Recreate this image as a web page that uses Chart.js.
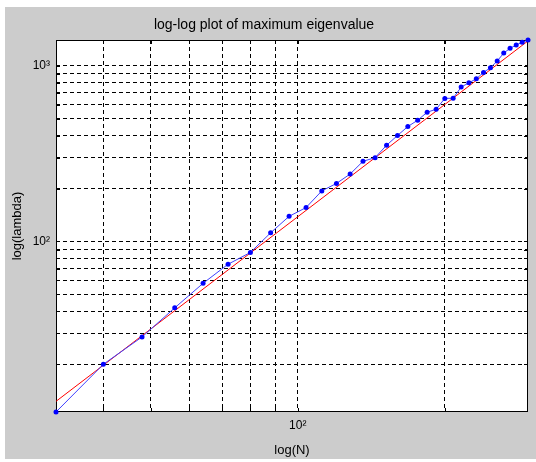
<!DOCTYPE html>
<html>
<head>
<meta charset="utf-8">
<script src="https://cdn.jsdelivr.net/npm/chart.js@4/dist/chart.umd.min.js"></script>
<style>
  html, body { margin: 0; padding: 0; background: #ffffff; }
  #wrap { width: 536px; height: 462px; }
</style>
</head>
<body>
<div id="wrap"><canvas id="c" width="536" height="462"></canvas></div>
<script>
// Matrix size N and its largest eigenvalue
const sizeN = [32, 40, 48, 56, 64, 72, 80, 88, 96, 104, 112, 120, 128, 136, 144,
               152, 160, 168, 176, 184, 192, 200, 208, 216, 224, 232, 240, 248, 256,
               264, 272, 280, 288, 296];
const maxEigenvalue = [10.7, 20, 28.6, 41.9, 57.8, 74.2, 86.6, 112, 139, 156, 194, 214, 242, 286, 300,
                       353, 401, 451, 490, 544, 566, 652, 654, 756, 800, 843, 917, 974, 1064,
                       1181, 1257, 1313, 1360, 1402];

// Straight-line fit in log-log space (end points)
const fitN = [32, 296];
const fitLambda = [12.3, 1385];

// Grid positions and the labelled decades
const xGridTicks = [40, 50, 60, 70, 80, 90, 100, 200];
const yGridTicks = [20, 30, 40, 50, 60, 70, 80, 90, 100, 200, 300, 400, 500, 600, 700, 800, 900, 1000];
const xTickLabels = { 100: '10²' };
const yTickLabels = { 100: '10²', 1000: '10³' };

const FONT = "'Liberation Sans', Arial, Helvetica, sans-serif";

const figureBackground = {
  id: 'figureBackground',
  beforeDraw(chart) {
    const { ctx, chartArea: a } = chart;
    ctx.save();
    ctx.fillStyle = '#ffffff';
    ctx.fillRect(0, 0, chart.width, chart.height);
    ctx.fillStyle = '#cccccc';
    ctx.fillRect(5, 7, chart.width - 5, 452);
    ctx.fillStyle = '#ffffff';
    ctx.fillRect(a.left, a.top, a.right - a.left, a.bottom - a.top);
    ctx.restore();
  }
};

const axesBox = {
  id: 'axesBox',
  beforeDatasetsDraw(chart) {
    const { ctx, chartArea: a, scales } = chart;
    ctx.save();
    ctx.strokeStyle = '#000000';
    ctx.lineWidth = 1;
    ctx.beginPath();
    const tl = 4;
    xGridTicks.forEach(v => {
      const px = Math.round(scales.x.getPixelForValue(v)) + 0.5;
      ctx.moveTo(px, a.bottom); ctx.lineTo(px, a.bottom - tl);
      ctx.moveTo(px, a.top); ctx.lineTo(px, a.top + tl);
    });
    yGridTicks.forEach(v => {
      const py = Math.round(scales.y.getPixelForValue(v)) + 0.5;
      ctx.moveTo(a.left, py); ctx.lineTo(a.left + tl, py);
      ctx.moveTo(a.right, py); ctx.lineTo(a.right - tl, py);
    });
    ctx.stroke();
    ctx.strokeRect(Math.round(a.left) + 0.5, Math.round(a.top) + 0.5,
                   Math.round(a.right - a.left) - 1, Math.round(a.bottom - a.top) - 1);
    ctx.restore();
  }
};

new Chart(document.getElementById('c'), {
  type: 'line',
  data: {
    datasets: [
      {
        label: 'lambda',
        data: sizeN.map((n, i) => ({ x: n, y: maxEigenvalue[i] })),
        borderColor: '#4040ff',
        borderWidth: 1,
        backgroundColor: '#0000ff',
        pointRadius: 2.5,
        pointBorderWidth: 0,
        pointBackgroundColor: '#0000ff',
        tension: 0,
        clip: false
      },
      {
        label: 'fit',
        data: fitN.map((n, i) => ({ x: n, y: fitLambda[i] })),
        borderColor: '#ff0000',
        borderWidth: 1,
        pointRadius: 0,
        tension: 0,
        clip: false
      }
    ]
  },
  options: {
    responsive: false,
    animation: false,
    devicePixelRatio: 1,
    layout: { padding: { left: 0, right: 8, top: 0, bottom: 0 } },
    plugins: {
      legend: { display: false },
      tooltip: { enabled: false },
      title: {
        display: true,
        text: 'log-log plot of maximum eigenvalue',
        color: '#000000',
        font: { family: FONT, size: 14, weight: 'normal' },
        padding: { top: 17.2, bottom: 6 }
      }
    },
    scales: {
      x: {
        type: 'logarithmic',
        min: sizeN[0],
        max: sizeN[sizeN.length - 1],
        afterBuildTicks: s => { s.ticks = xGridTicks.map(v => ({ value: v })); },
        afterFit: s => { s.height = 50; },
        ticks: {
          autoSkip: false, maxRotation: 0, minRotation: 0,
          padding: 6.8,
          color: '#000000',
          font: { family: FONT, size: 12 },
          callback: v => xTickLabels[v] || ''
        },
        grid: { color: '#000000', lineWidth: 1, drawTicks: false },
        border: { display: false, dash: [4, 3] },
        title: {
          display: true, text: 'log(N)', color: '#000000',
          font: { family: FONT, size: 13 },
          padding: { top: 0, bottom: 4.2 }
        }
      },
      y: {
        type: 'logarithmic',
        min: Math.min(...maxEigenvalue),
        max: Math.max(...maxEigenvalue),
        afterBuildTicks: s => { s.ticks = yGridTicks.map(v => ({ value: v })); },
        afterFit: s => { s.width = 56; },
        ticks: {
          autoSkip: false,
          padding: 6,
          color: '#000000',
          font: { family: FONT, size: 12 },
          callback: v => yTickLabels[v] || ''
        },
        grid: { color: '#000000', lineWidth: 1, drawTicks: false },
        border: { display: false, dash: [4, 3] },
        title: {
          display: true, text: 'log(lambda)', color: '#000000',
          font: { family: FONT, size: 13 },
          padding: { top: 9.2, bottom: 0 }
        }
      }
    }
  },
  plugins: [figureBackground, axesBox]
});
</script>
</body>
</html>
